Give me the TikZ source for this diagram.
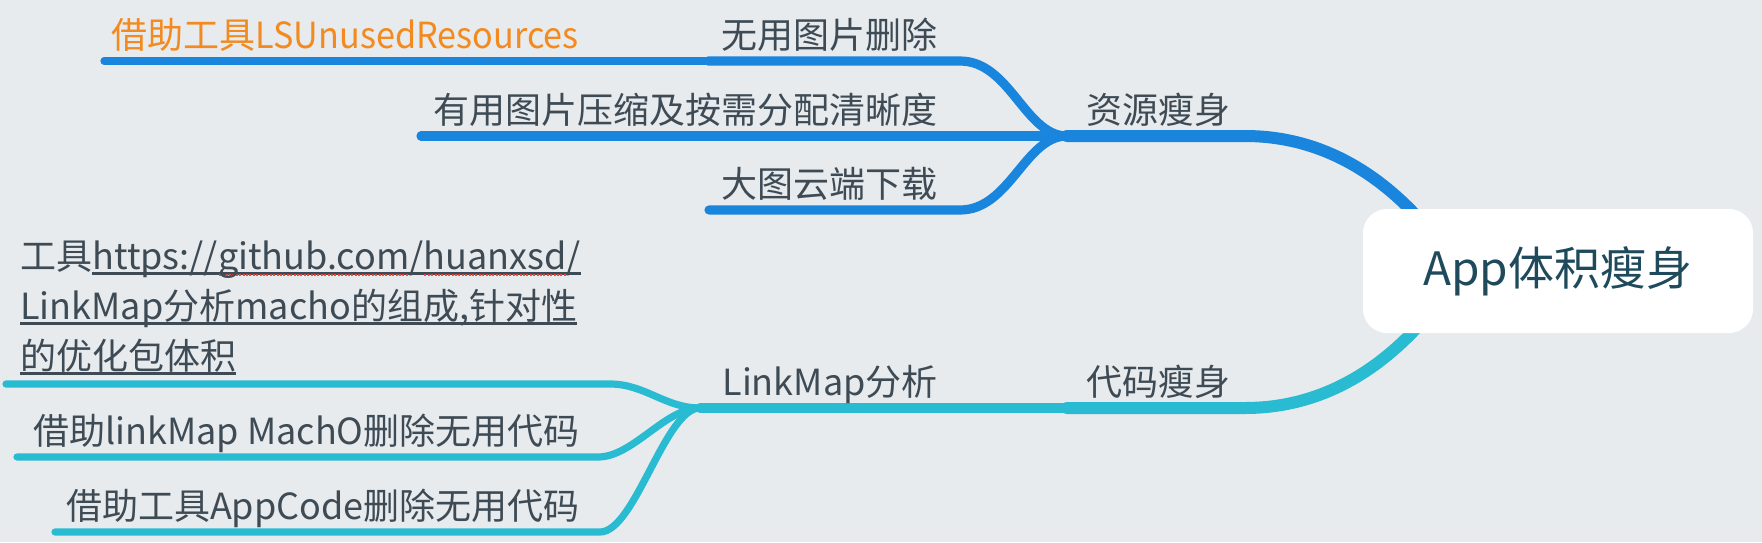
\documentclass[tikz,border=0pt]{standalone}
\usepackage{fontspec}
\setmainfont{Noto Sans CJK SC}
\definecolor{mapbg}{HTML}{E7EBEE}
\definecolor{mapblue}{HTML}{1A85DC}
\definecolor{mapteal}{HTML}{29BBD1}
\definecolor{maptext}{HTML}{3E4B55}
\definecolor{maproot}{HTML}{1E4A5C}
\definecolor{maporange}{HTML}{F38A1F}
\definecolor{mapspell}{HTML}{E9493E}
\newsavebox{\linkbox}
\newsavebox{\spellbox}
\newcommand{\ulink}[1]{\sbox{\linkbox}{#1}\rlap{\color{maptext}\rule[-2.6pt]{\wd\linkbox}{1.1pt}}\usebox{\linkbox}}
\newcommand{\spellmark}[1]{\sbox{\spellbox}{#1}\rlap{\color{mapspell}\raisebox{-3.4pt}{\hbox to \wd\spellbox{\leaders\hbox to 1.7pt{\hss\rule{1pt}{1pt}\hss}\hfill}}}\usebox{\spellbox}}

\begin{document}
\begin{tikzpicture}[
    x=0.5pt, y=-0.5pt,
    every node/.style={inner sep=0pt, text=maptext, font=\fontsize{18}{25}\selectfont},
    rootbox/.style={fill=white, rounded corners=12pt, minimum width=195pt, minimum height=62pt, text=maproot, font=\fontsize{23}{28}\selectfont},
    topic/.style={anchor=base west},
    subtopic/.style={anchor=base east},
    mainbranch/.style={draw=#1, line width=6pt, line cap=round},
    branch/.style={draw=#1, line width=4.6pt, line cap=round},
    twig/.style={draw=#1, line width=3.6pt, line cap=round}
  ]
    \fill[mapbg] (0,0) rectangle (1762,542);
    \useasboundingbox (0,0) rectangle (1762,542);

    \coordinate (app-in) at (1460,272);
    \coordinate (res-bend) at (1245,136);
    \coordinate (res-j) at (1067,136);
    \coordinate (code-bend) at (1245,408);
    \coordinate (code-j) at (1067,408);
    \coordinate (del-bend) at (960,61);
    \coordinate (del-j) at (708,61);
    \coordinate (ls-end) at (104,61);
    \coordinate (zip-end) at (421,136);
    \coordinate (cloud-bend) at (960,210);
    \coordinate (cloud-end) at (709,210);
    \coordinate (lm-j) at (700,408);
    \coordinate (tool-bend) at (610,384);
    \coordinate (tool-end) at (6,384);
    \coordinate (mach-bend) at (598,457);
    \coordinate (mach-end) at (17,457);
    \coordinate (appc-bend) at (600,532);
    \coordinate (appc-end) at (55,532);

    \draw[mainbranch=mapblue] (res-j) -- (res-bend) .. controls +(95,0) and +(-50,-77) .. (app-in);
    \draw[mainbranch=mapteal] (code-j) -- (code-bend) .. controls +(95,0) and +(-50,77) .. (app-in);

    \draw[branch=mapblue] (res-j) .. controls +(-42,0) and +(50,0) .. (del-bend) -- (del-j);
    \draw[branch=mapblue] (res-j) -- (zip-end);
    \draw[branch=mapblue] (res-j) .. controls +(-42,0) and +(50,0) .. (cloud-bend) -- (cloud-end);
    \draw[twig=mapblue] (del-j) -- (ls-end);

    \draw[branch=mapteal, line width=5pt] (code-j) -- (lm-j);
    \draw[twig=mapteal] (lm-j) .. controls +(-35,0) and +(35,0) .. (tool-bend) -- (tool-end);
    \draw[twig=mapteal] (lm-j) .. controls +(-35,0) and +(35,0) .. (mach-bend) -- (mach-end);
    \draw[twig=mapteal] (lm-j) .. controls +(-35,0) and +(35,0) .. (appc-bend) -- (appc-end);

    \node[rootbox] (app) at (1558,271) {App体积瘦身};

    \node[topic] (res) at (1086,123) {资源瘦身};
    \node[topic] (code) at (1086,395) {代码瘦身};
    \node[subtopic] (del) at (938,48) {无用图片删除};
    \node[subtopic] (zip) at (938,123) {有用图片压缩及按需分配清晰度};
    \node[subtopic] (cloud) at (938,197) {大图云端下载};
    \node[subtopic, text=maporange] (ls) at (579,48) {借助工具{\addfontfeature{FakeStretch=0.95}LSUnusedResources}};
    \node[subtopic] (lm) at (938,395) {LinkMap分析};
    \node[anchor=south west, align=left] (tool) at (20,375) {工具\ulink{https://\spellmark{github.com}/\spellmark{huanxsd}/}\\\ulink{LinkMap分析macho的组成,针对性}\\\ulink{的优化包体积}};
    \node[subtopic] (mach) at (580,444) {借助linkMap MachO删除无用代码};
    \node[subtopic] (appc) at (580,519) {借助工具AppCode删除无用代码};
  \end{tikzpicture}
\end{document}
